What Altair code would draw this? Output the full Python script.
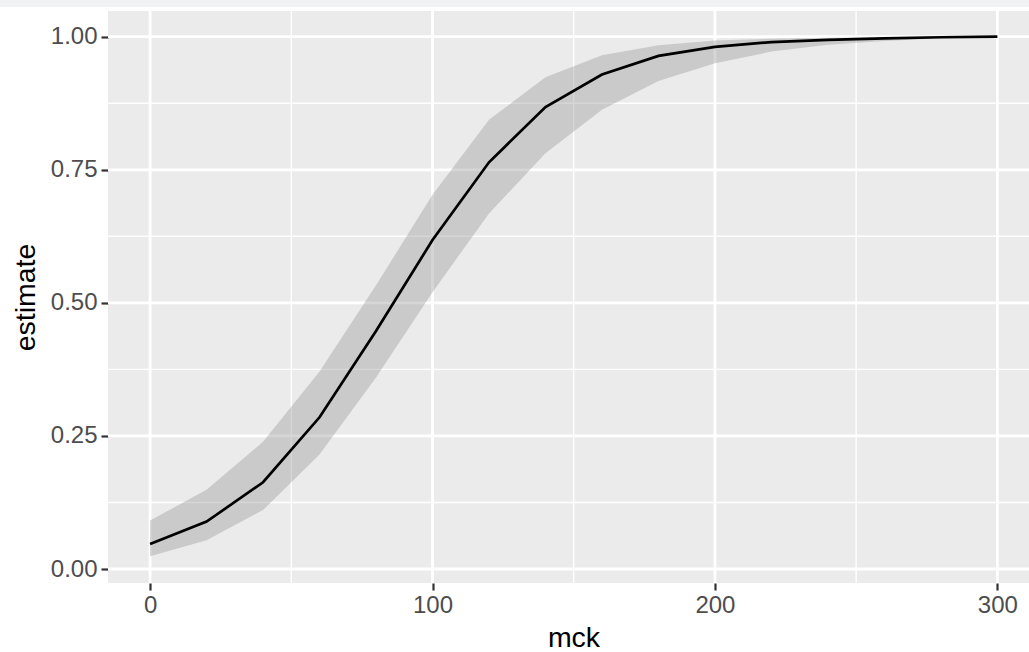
import altair as alt
import pandas as pd

# data
mck = [0, 20, 40, 60, 80, 100, 120, 140, 160, 180, 200, 220, 240, 260, 280, 300]
estimate = [0.047, 0.089, 0.163, 0.285, 0.447, 0.618, 0.764, 0.868, 0.929, 0.964, 0.981, 0.990, 0.994, 0.997, 0.999, 1.0]
lower = [0.024, 0.054, 0.111, 0.215, 0.360, 0.520, 0.668, 0.781, 0.863, 0.917, 0.950, 0.972, 0.985, 0.992, 0.997, 0.999]
upper = [0.091, 0.149, 0.239, 0.371, 0.533, 0.703, 0.844, 0.924, 0.965, 0.984, 0.993, 0.996, 0.998, 0.999, 1.0, 1.0]

x_major = [0, 100, 200, 300]
x_minor = [50, 150, 250]
y_major = [0.0, 0.25, 0.5, 0.75, 1.0]
y_minor = [0.125, 0.375, 0.625, 0.875]

df = pd.DataFrame({"mck": mck, "estimate": estimate, "lower": lower, "upper": upper})

W, H = 921, 572
xscale = alt.Scale(domain=[-14.9, 311.2], nice=False, zero=False)
yscale = alt.Scale(domain=[-0.0263, 1.0483], nice=False, zero=False)
FONT = "Liberation Sans"

xaxis = alt.Axis(values=x_major, grid=False, domain=False, tickColor="#333333", tickSize=7,
                 tickWidth=2.2, labelColor="#4d4d4d", labelFont=FONT, labelFontSize=24,
                 labelPadding=3, title="mck", titleFont=FONT, titleFontSize=28.5,
                 titleFontWeight="normal", titleColor="#000000", titleBaseline="alphabetic",
                 titleX=465.5, titleY=63.4, titleAlign="center")
yaxis = alt.Axis(values=y_major, format=".2f", grid=False, domain=False, tickColor="#333333",
                 tickSize=7, tickWidth=2.2, labelColor="#4d4d4d", labelFont=FONT,
                 labelFontSize=24, labelPadding=4, title="estimate", titleFont=FONT,
                 titleFontSize=28.5, titleFontWeight="normal", titleColor="#000000",
                 titleAngle=-90, titleBaseline="alphabetic", titleX=-74, titleY=286,
                 titleAlign="center")

X = alt.X("mck:Q", scale=xscale, axis=xaxis)
Y = alt.Y("estimate:Q", scale=yscale, axis=yaxis)

gx_major = alt.Chart(pd.DataFrame({"mck": x_major})).mark_rule(color="white", strokeWidth=2.8).encode(x=X)
gx_minor = alt.Chart(pd.DataFrame({"mck": x_minor})).mark_rule(color="white", strokeWidth=1.4).encode(x=X)
gy_major = alt.Chart(pd.DataFrame({"estimate": y_major})).mark_rule(color="white", strokeWidth=2.8).encode(y=Y)
gy_minor = alt.Chart(pd.DataFrame({"estimate": y_minor})).mark_rule(color="white", strokeWidth=1.4).encode(y=Y)

strip = alt.Chart(pd.DataFrame({"mck": [0]})).mark_rect(color="#f1f2f4", clip=False).encode(
    x=alt.value(-108), x2=alt.value(W), y=alt.value(-11), y2=alt.value(-4))

ribbon = alt.Chart(df).mark_area(color="#999999", opacity=0.4).encode(
    x=X,
    y=alt.Y("lower:Q", scale=yscale, axis=yaxis),
    y2="upper:Q")

line = alt.Chart(df).mark_line(color="#000000", strokeWidth=2.7).encode(x=X, y=Y)

chart = alt.layer(strip, gy_minor, gx_minor, gy_major, gx_major, ribbon, line).properties(
    width=W, height=H,
    padding={"left": 108, "top": 11, "right": 0, "bottom": 69},
    autosize=alt.AutoSizeParams(type="none"),
    background="white",
).configure_view(fill="#ebebeb", strokeWidth=0)

chart.save("out.html", embed_options={"renderer": "svg", "actions": False})
